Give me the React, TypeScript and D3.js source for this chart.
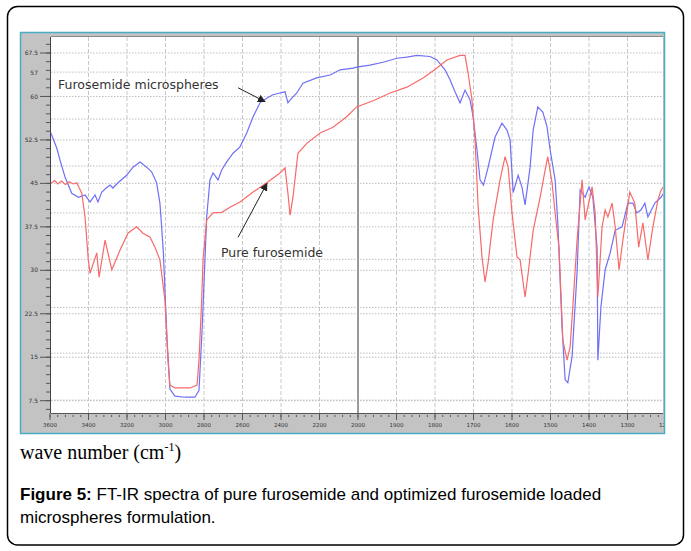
import * as d3 from 'd3';

// wavenumber (cm-1) / transmittance (%T)
const MICRO_WN = [3600, 3591, 3565, 3548, 3522, 3487, 3453, 3418, 3392, 3366, 3351, 3331, 3305, 3288, 3273, 3247, 3202, 3169, 3132, 3098, 3072, 3046, 3029, 3020, 3011, 2992, 2977, 2951, 2899, 2847, 2826, 2810, 2795, 2786, 2769, 2753, 2727, 2708, 2682, 2649, 2613, 2578, 2545, 2509, 2474, 2442, 2405, 2379, 2364, 2344, 2318, 2286, 2215, 2145, 2093, 2026, 2000, 1969, 1935, 1899, 1873, 1847, 1813, 1795, 1774, 1761, 1748, 1735, 1722, 1709, 1701, 1691, 1683, 1674, 1662, 1644, 1626, 1613, 1605, 1597, 1584, 1574, 1566, 1553, 1545, 1533, 1520, 1509, 1501, 1488, 1481, 1470, 1462, 1455, 1444, 1431, 1423, 1410, 1400, 1390, 1379, 1377, 1369, 1358, 1345, 1332, 1314, 1299, 1286, 1276, 1265, 1255, 1247, 1229, 1213, 1200];
const MICRO_T = [54.0, 53.3, 51.1, 49.0, 46.1, 43.3, 42.6, 43.0, 41.8, 43.0, 41.8, 43.5, 44.3, 44.7, 44.2, 45.1, 46.4, 47.8, 48.7, 47.8, 47.0, 45.1, 41.6, 37.5, 33.0, 18.0, 9.5, 8.3, 8.1, 8.1, 9.3, 19.7, 31.8, 39.2, 45.6, 46.8, 45.6, 47.3, 48.7, 50.2, 51.3, 53.7, 56.5, 58.9, 59.7, 60.3, 60.6, 60.8, 58.9, 59.7, 60.6, 62.3, 63.2, 63.7, 64.6, 64.9, 65.1, 65.4, 65.9, 66.6, 66.8, 67.1, 66.9, 66.3, 64.6, 62.9, 60.8, 58.9, 61.1, 59.4, 56.5, 50.8, 45.6, 44.7, 47.8, 53.0, 55.4, 54.2, 52.5, 43.4, 46.4, 44.3, 41.3, 47.8, 54.2, 58.2, 57.3, 54.8, 50.8, 45.6, 38.2, 20.2, 11.1, 10.6, 15.1, 29.6, 43.9, 42.6, 44.4, 42.6, 33.9, 14.5, 23.7, 30.1, 33.0, 36.9, 37.5, 41.6, 41.6, 39.9, 40.4, 41.6, 39.2, 41.6, 42.6, 44.0];

const PURE_WN = [3600, 3591, 3575, 3560, 3540, 3520, 3500, 3480, 3461, 3435, 3418, 3401, 3392, 3357, 3345, 3314, 3279, 3236, 3195, 3150, 3117, 3080, 3055, 3029, 3003, 2987, 2977, 2951, 2873, 2836, 2826, 2812, 2805, 2786, 2753, 2708, 2665, 2613, 2545, 2474, 2405, 2379, 2364, 2353, 2338, 2312, 2266, 2197, 2130, 2059, 2007, 1956, 1917, 1873, 1831, 1795, 1769, 1735, 1722, 1714, 1704, 1696, 1688, 1678, 1670, 1662, 1649, 1631, 1618, 1610, 1600, 1587, 1579, 1566, 1558, 1545, 1527, 1514, 1507, 1496, 1488, 1478, 1468, 1457, 1449, 1442, 1431, 1418, 1410, 1403, 1392, 1384, 1377, 1366, 1358, 1351, 1340, 1332, 1322, 1312, 1294, 1281, 1271, 1260, 1247, 1234, 1221, 1213, 1200];
const PURE_T = [45.0, 45.1, 45.5, 44.9, 45.4, 44.8, 45.3, 44.9, 45.1, 43.3, 39.2, 31.8, 29.5, 33.0, 28.8, 35.2, 30.1, 33.5, 36.4, 37.5, 36.4, 35.7, 34.0, 31.8, 24.9, 14.5, 10.2, 9.7, 9.7, 10.2, 14.5, 24.9, 31.8, 38.7, 39.9, 40.0, 40.9, 41.8, 43.5, 45.1, 46.8, 47.7, 43.3, 39.5, 42.6, 50.2, 51.9, 53.7, 54.7, 56.5, 58.2, 59.4, 60.6, 61.6, 63.2, 64.9, 66.3, 67.1, 67.1, 64.0, 59.4, 52.5, 41.0, 32.3, 28.0, 31.3, 38.7, 45.6, 49.6, 47.8, 39.9, 32.3, 31.8, 25.4, 29.5, 36.9, 42.6, 47.3, 49.6, 45.1, 39.9, 34.0, 18.0, 14.5, 16.8, 23.7, 35.2, 45.6, 38.7, 40.9, 44.4, 39.9, 25.4, 37.5, 40.4, 39.2, 41.6, 37.5, 30.1, 35.2, 43.5, 41.6, 34.0, 38.2, 31.8, 37.5, 42.1, 43.8, 45.0];

const X_TICKS = [3600, 3400, 3200, 3000, 2800, 2600, 2400, 2200, 2000, 1900, 1800, 1700, 1600, 1500, 1400, 1300, 1200];
const Y_TICKS = [7.5, 15, 22.5, 30, 37.5, 45, 52.5, 60, 67.5];
const Y_ODD_LABEL = { value: 64, text: '57' };
// second dotted grid of the instrument software
const Y_GRID2 = [7.6, 15.7, 23.6, 31.9, 39.9, 48.0, 56.1, 64.2];

const W = 691;
const H = 551;
const plot = { left: 51, right: 663, top: 37, bottom: 413 };

export default function App() {
  const x = d3.scaleLinear().domain([3600, 2000, 1200]).range([50, 358, 666]);
  const y = d3.scaleLinear().domain([7.5, 67.5]).range([400.7, 53]);

  const line = d3.line<[number, number]>().x((d) => x(d[0])).y((d) => y(d[1]));
  const micro = line(MICRO_WN.map((w, i) => [w, MICRO_T[i]]));
  const pure = line(PURE_WN.map((w, i) => [w, PURE_T[i]]));

  // minor ticks
  const yMinor = d3.range(6, 70, 1.5);
  const xMinor = [...d3.range(3600, 2000, -40), ...d3.range(2000, 1190, -20)];

  const ann = [
    { text: 'Furosemide microspheres', tx: 3558, ty: 62.0, fx: 2623, fy: 61.5, ex: 2483, ey: 59.1 },
    { text: 'Pure furosemide', tx: 2712, ty: 33.0, fx: 2623, fy: 35.7, ex: 2473, ey: 45.0 },
  ];

  return (
    <svg width={W} height={H} style={{ position: 'absolute', left: 0, top: 0 }}>
      <defs>
        <clipPath id="plotClip">
          <rect x={plot.left} y={plot.top} width={plot.right - plot.left} height={plot.bottom - plot.top} />
        </clipPath>
        <clipPath id="frameClip">
          <rect x={21} y={33} width={643} height={400} />
        </clipPath>
        <marker id="arr" viewBox="0 0 10 10" refX="9" refY="5" markerWidth="8" markerHeight="8" orient="auto" markerUnits="userSpaceOnUse">
          <path d="M0,0 L10,5 L0,10 Z" fill="#222" />
        </marker>
      </defs>

      <rect x={7.5} y={6.5} width={676} height={538.5} rx={10} fill="#fff" stroke="#000" strokeWidth={1.5} />

      {/* screenshot panel */}
      <rect x={21} y={33} width={643} height={400} fill="#c3c3c3" />
      <rect x={plot.left} y={plot.top} width={plot.right - plot.left} height={plot.bottom - plot.top} fill="#fff" />
      <line x1={plot.left} x2={plot.right} y1={36.5} y2={36.5} stroke="#888" strokeWidth={1} />

      <g clipPath="url(#plotClip)">
        {X_TICKS.filter((t) => t !== 3600 && t !== 2000).map((t) => (
          <line key={`vx${t}`} x1={x(t)} x2={x(t)} y1={plot.top} y2={plot.bottom} stroke="#c8c8c8" strokeDasharray="4,2" />
        ))}
        {[...Y_TICKS, ...Y_GRID2].map((t, i) => (
          <line key={`hy${i}`} x1={plot.left} x2={plot.right} y1={y(t)} y2={y(t)} stroke="#bdbdbd" strokeDasharray="1.5,1.5" />
        ))}
        <line x1={x(2000)} x2={x(2000)} y1={plot.top} y2={plot.bottom} stroke="#9a9a9a" strokeWidth={2} />
        <path d={micro ?? ''} fill="none" stroke="#6f6ff7" strokeWidth={1.2} />
        <path d={pure ?? ''} fill="none" stroke="#f76a6a" strokeWidth={1.2} />
      </g>

      {/* y axis */}
      <line x1={50.5} x2={50.5} y1={plot.top} y2={plot.bottom} stroke="#444" />
      {yMinor.map((t) => (
        <line key={`ym${t}`} x1={46} x2={50} y1={y(t)} y2={y(t)} stroke="#555" />
      ))}
      {Y_TICKS.map((t) => (
        <g key={`yl${t}`}>
          <line x1={40} x2={50} y1={y(t)} y2={y(t)} stroke="#555" />
          <text x={38} y={y(t)} dy="0.35em" textAnchor="end" fontFamily="DejaVu Sans" fontSize={6} fill="#333">{t}</text>
        </g>
      ))}
      <text x={38} y={y(Y_ODD_LABEL.value)} dy="0.35em" textAnchor="end" fontFamily="DejaVu Sans" fontSize={6} fill="#333">{Y_ODD_LABEL.text}</text>

      {/* x axis */}
      <g clipPath="url(#frameClip)">
        <line x1={plot.left} x2={plot.right} y1={413.5} y2={413.5} stroke="#555" />
        {xMinor.map((t) => (
          <line key={`xm${t}`} x1={x(t)} x2={x(t)} y1={415} y2={417} stroke="#555" />
        ))}
        {X_TICKS.map((t) => (
          <g key={`xl${t}`}>
            <line x1={x(t)} x2={x(t)} y1={413} y2={420} stroke="#555" />
            <text x={x(t)} y={427} textAnchor="middle" fontFamily="DejaVu Sans" fontSize={5.5} fill="#333">{t}</text>
          </g>
        ))}
      </g>
      <rect x={20.5} y={32.5} width={644} height={401} fill="none" stroke="#4aacc5" strokeWidth={1.5} />

      {/* annotations */}
      {ann.map((a) => (
        <g key={a.text}>
          <text x={x(a.tx)} y={y(a.ty)} dy="0.35em" fontFamily="DejaVu Sans" fontSize={12.5} fill="#333">{a.text}</text>
          <line x1={x(a.fx)} y1={y(a.fy)} x2={x(a.ex)} y2={y(a.ey)} stroke="#222" strokeWidth={1} markerEnd="url(#arr)" />
        </g>
      ))}

      <text x={20} y={459} fontFamily="Liberation Serif" fontSize={20} fill="#000">
        wave number (cm<tspan fontSize={12} dy={-8}>-1</tspan><tspan dy={8}>)</tspan>
      </text>

      <text x={20} y={500} fontFamily="Liberation Sans, Arial" fontSize={17} fill="#000">
        <tspan fontWeight="bold">Figure 5:</tspan> FT-IR spectra of pure furosemide and optimized furosemide loaded
      </text>
      <text x={20} y={523} fontFamily="Liberation Sans, Arial" fontSize={17} fill="#000">microspheres formulation.</text>
    </svg>
  );
}
